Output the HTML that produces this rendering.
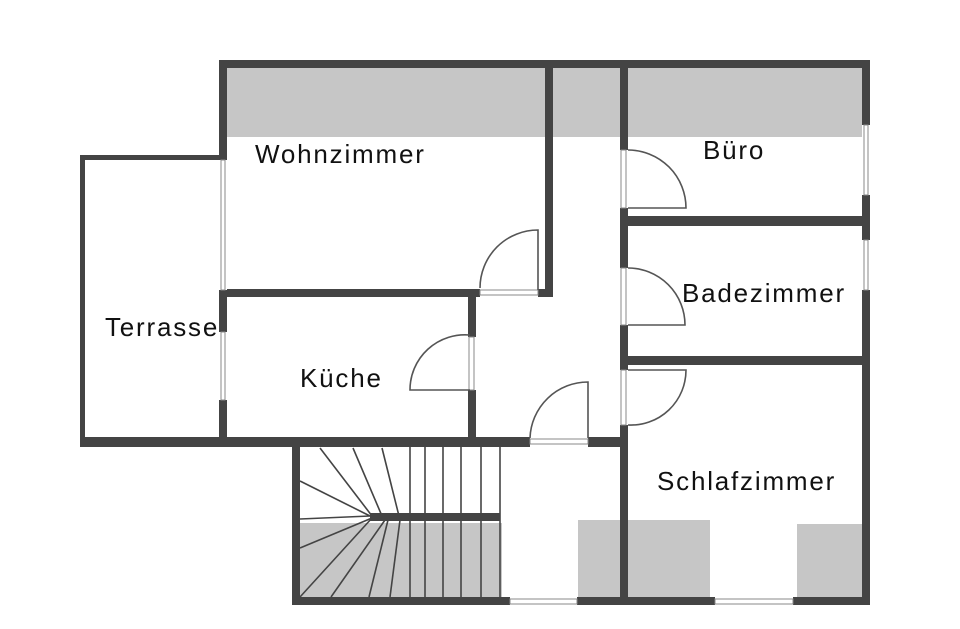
<!DOCTYPE html>
<html><head><meta charset="utf-8"><style>
html,body{margin:0;padding:0;background:#fff}
svg{display:block}
text{font-family:"Liberation Sans",sans-serif;font-size:26px;letter-spacing:1.8px;fill:#111}
</style></head><body>
<svg width="960" height="629" viewBox="0 0 960 629" xmlns="http://www.w3.org/2000/svg">
<g fill="#c6c6c6">
<rect x="227" y="68" width="318" height="69"/>
<rect x="553" y="68" width="67" height="69"/>
<rect x="628" y="68" width="234" height="69"/>
<rect x="300" y="523" width="202" height="74"/>
<rect x="578" y="520" width="132" height="77"/>
<rect x="797" y="524" width="65" height="73"/>
</g>
<g stroke="#444" stroke-width="1.6" fill="none">
<line x1="410" y1="447" x2="410" y2="597"/>
<line x1="425" y1="447" x2="425" y2="597"/>
<line x1="443" y1="447" x2="443" y2="597"/>
<line x1="461" y1="447" x2="461" y2="597"/>
<line x1="481" y1="447" x2="481" y2="597"/>
<line x1="500" y1="447" x2="500" y2="597"/>
<line x1="320" y1="448" x2="372" y2="516"/>
<line x1="353" y1="448" x2="382" y2="516"/>
<line x1="382" y1="448" x2="399" y2="516"/>
<line x1="300" y1="481" x2="370" y2="516"/>
<line x1="300" y1="519" x2="370" y2="516"/>
<line x1="300" y1="548" x2="372" y2="518"/>
<line x1="300" y1="597" x2="372" y2="518"/>
<line x1="331" y1="597" x2="385" y2="520"/>
<line x1="369" y1="597" x2="388" y2="520"/>
<line x1="390" y1="597" x2="400" y2="520"/>
</g>
<rect x="370" y="513" width="130" height="8" fill="#444"/>
<g fill="#444">
<rect x="219" y="60" width="651" height="8"/>
<rect x="219" y="60" width="8" height="100"/>
<rect x="219" y="290" width="8" height="42"/>
<rect x="219" y="400" width="8" height="47"/>
<rect x="862" y="60" width="8" height="65"/>
<rect x="862" y="195" width="8" height="45"/>
<rect x="862" y="290" width="8" height="315"/>
<rect x="545" y="60" width="8" height="237"/>
<rect x="227" y="289" width="253" height="8"/>
<rect x="538" y="289" width="15" height="8"/>
<rect x="468" y="293" width="8" height="44"/>
<rect x="468" y="390" width="8" height="50"/>
<rect x="620" y="60" width="8" height="90"/>
<rect x="620" y="208" width="8" height="60"/>
<rect x="620" y="325" width="8" height="45"/>
<rect x="620" y="425" width="8" height="180"/>
<rect x="628" y="216" width="242" height="10"/>
<rect x="628" y="356" width="242" height="9"/>
<rect x="80" y="437" width="450" height="10"/>
<rect x="588" y="437" width="40" height="10"/>
<rect x="80" y="155" width="147" height="5"/>
<rect x="80" y="155" width="5" height="290"/>
<rect x="292" y="447" width="8" height="158"/>
<rect x="292" y="597" width="218" height="8"/>
<rect x="577" y="597" width="138" height="8"/>
<rect x="793" y="597" width="77" height="8"/>
</g>
<g stroke="#888" stroke-width="1" fill="none">
<rect x="221" y="160" width="4" height="130"/>
<rect x="221" y="332" width="4" height="68"/>
<rect x="864" y="125" width="4" height="70"/>
<rect x="864" y="240" width="4" height="50"/>
<rect x="480" y="290" width="58" height="5"/>
<rect x="469" y="337" width="5" height="53"/>
<rect x="530" y="439" width="58" height="5"/>
<rect x="621" y="150" width="5" height="58"/>
<rect x="621" y="268" width="5" height="57"/>
<rect x="621" y="370" width="5" height="55"/>
<rect x="510" y="599" width="67" height="5"/>
<rect x="715" y="599" width="78" height="5"/>
</g>
<g stroke="#555" stroke-width="1.6" fill="none">
<path d="M538 290 V230 A58 58 0 0 0 480 288"/>
<path d="M470 390 H410 A55 55 0 0 1 470 335"/>
<path d="M588 438 V382 A58 58 0 0 0 530 438"/>
<path d="M628 150 A58 58 0 0 1 686 208 H628"/>
<path d="M628 268 A57 57 0 0 1 685 325 H628"/>
<path d="M628 370 H686 A55 55 0 0 1 628 425"/>
</g>
<text x="255" y="163">Wohnzimmer</text>
<text x="703" y="159">Büro</text>
<text x="105" y="336">Terrasse</text>
<text x="300" y="387">Küche</text>
<text x="682" y="302">Badezimmer</text>
<text x="657" y="490">Schlafzimmer</text>
</svg>
</body></html>
